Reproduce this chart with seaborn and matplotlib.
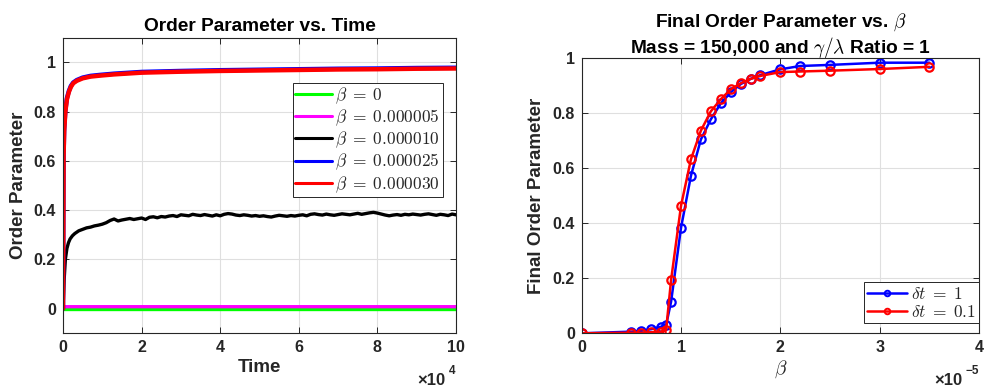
import numpy as np
import pandas as pd
import matplotlib
matplotlib.use("Agg")
import matplotlib.pyplot as plt
import seaborn as sns
from matplotlib.ticker import FixedLocator, FuncFormatter

sns.set_theme(style="white")
plt.rcParams['font.family'] = ['Liberation Sans', 'DejaVu Sans']
plt.rcParams['mathtext.fontset'] = 'cm'
plt.rcParams['font.weight'] = 'bold'
plt.rcParams['axes.labelweight'] = 'bold'
plt.rcParams['axes.titleweight'] = 'bold'

# ---------------- data: left panel (order parameter vs time) ----------------
time_zero = [0, 100000]
op_beta0 = [0.0, 0.0]

time_b5 = [0, 100, 100000]
op_beta5 = [0.0, 0.008, 0.008]

time_b10_early = [0, 300, 600, 1000, 1400, 1800, 2400]
op_beta10_early = [0.0, 0.12, 0.20, 0.245, 0.268, 0.283, 0.296]
time_b10_late = np.arange(3000, 100001, 1000)
op_beta10_late = [
    0.305, 0.316, 0.322, 0.328, 0.331, 0.336, 0.339, 0.343, 0.349, 0.358,
    0.364, 0.356, 0.360, 0.363, 0.366, 0.362, 0.365, 0.368, 0.362, 0.371,
    0.373, 0.369, 0.374, 0.372, 0.376, 0.378, 0.374, 0.381, 0.379, 0.377,
    0.383, 0.380, 0.378, 0.382, 0.379, 0.376, 0.381, 0.377, 0.383, 0.386,
    0.384, 0.380, 0.378, 0.381, 0.379, 0.376, 0.378, 0.375, 0.377, 0.374,
    0.372, 0.376, 0.379, 0.377, 0.375, 0.378, 0.376, 0.379, 0.381, 0.377,
    0.383, 0.385, 0.382, 0.380, 0.384, 0.381, 0.379, 0.382, 0.385, 0.383,
    0.381, 0.384, 0.387, 0.383, 0.386, 0.389, 0.391, 0.388, 0.384, 0.380,
    0.377, 0.380, 0.382, 0.379, 0.383, 0.381, 0.384, 0.382, 0.380, 0.383,
    0.385, 0.382, 0.379, 0.383, 0.381, 0.378, 0.384, 0.381,
]

time_high = [0, 150, 300, 600, 1000, 1500, 2000, 2600, 3500, 5000, 7000, 9400,
             13000, 20000, 30000, 40000, 50000, 60000, 70000, 80000, 90000, 100000]
op_beta25 = [0.0, 0.63, 0.73, 0.805, 0.855, 0.884, 0.904, 0.918, 0.928, 0.938, 0.945,
             0.949, 0.954, 0.961, 0.965, 0.968, 0.970, 0.972, 0.974, 0.975, 0.977, 0.978]
op_beta30 = [0.0, 0.62, 0.72, 0.80, 0.85, 0.88, 0.90, 0.915, 0.925, 0.935, 0.942,
             0.946, 0.951, 0.958, 0.962, 0.965, 0.967, 0.969, 0.971, 0.972, 0.974, 0.975]

legend_labels_left = [r'$\beta\;=\;0$', r'$\beta\;=\;0.000005$', r'$\beta\;=\;0.000010$',
                      r'$\beta\;=\;0.000025$', r'$\beta\;=\;0.000030$']

# ---------------- data: right panel (final order parameter vs beta) ----------------
beta_vals = np.array([0, 0.5, 0.6, 0.7, 0.8, 0.85, 0.9, 1.0, 1.1, 1.2, 1.3, 1.4, 1.5,
                      1.6, 1.7, 1.8, 2.0, 2.2, 2.5, 3.0, 3.5]) * 1e-5
final_dt1 = [0.0, 0.006, 0.009, 0.015, 0.024, 0.030, 0.115, 0.384, 0.573, 0.705, 0.778,
             0.836, 0.876, 0.906, 0.925, 0.939, 0.960, 0.972, 0.976, 0.984, 0.984]
final_dt01 = [0.0, 0.002, 0.002, 0.004, 0.006, 0.012, 0.194, 0.464, 0.633, 0.737, 0.807,
              0.851, 0.887, 0.909, 0.925, 0.936, 0.950, 0.952, 0.955, 0.961, 0.969]
legend_labels_right = [r'$\delta t\;=\;1$', r'$\delta t\;=\;0.1$']

# ---------------- figure ----------------
W, H = 987, 387
fig = plt.figure(figsize=(W / 100, H / 100), dpi=100)
axL = fig.add_axes([63 / W, 1 - 333.3 / H, 393 / W, 295.6 / H])
axR = fig.add_axes([581.7 / W, 1 - 333.3 / H, 397.3 / W, 275 / H])

edge = '#262626'
grid_c = '#dfdfdf'
tick_fs = 11.5
label_fs = 13.5
title_fs = 13.8
leg_fs = 12.5

# left panel lines
sns.lineplot(x=time_zero, y=op_beta0, ax=axL, color='#00ff00', lw=2.4,
             label=legend_labels_left[0], estimator=None, sort=False)
sns.lineplot(x=time_b5, y=op_beta5, ax=axL, color='#ff00ff', lw=2.4,
             label=legend_labels_left[1], estimator=None, sort=False)
tb10 = np.concatenate([time_b10_early, time_b10_late])
ob10 = np.concatenate([op_beta10_early, op_beta10_late])
sns.lineplot(x=tb10, y=ob10, ax=axL, color='black', lw=2.4,
             label=legend_labels_left[2], estimator=None, sort=False)
sns.lineplot(x=time_high, y=op_beta25, ax=axL, color='#0000ff', lw=3.2,
             label=legend_labels_left[3], estimator=None, sort=False)
sns.lineplot(x=time_high, y=op_beta30, ax=axL, color='#ff0000', lw=3.2,
             label=legend_labels_left[4], estimator=None, sort=False)

axL.set_xlim(0, 100000)
axL.set_ylim(-0.1, 1.1)
axL.xaxis.set_major_locator(FixedLocator(np.arange(0, 100001, 20000)))
axL.xaxis.set_major_formatter(FuncFormatter(lambda v, p: f'{v / 1e4:g}'))
axL.yaxis.set_major_locator(FixedLocator([0, 0.2, 0.4, 0.6, 0.8, 1.0]))
axL.yaxis.set_major_formatter(FuncFormatter(lambda v, p: f'{v:g}'))
axL.set_title('Order Parameter vs. Time', fontsize=title_fs, fontweight='bold', pad=5)
axL.set_xlabel('Time', fontsize=label_fs, fontweight='bold', labelpad=3)
axL.set_ylabel('Order Parameter', fontsize=label_fs, fontweight='bold', labelpad=5)
legL = axL.legend(loc='upper right', bbox_to_anchor=(0.966, 0.848), borderaxespad=0,
                  fontsize=leg_fs, frameon=True, fancybox=False, framealpha=1,
                  edgecolor=edge, handlelength=2.1, handletextpad=0.2,
                  labelspacing=0.1, borderpad=0.15)
legL.get_frame().set_linewidth(0.7)
for ln in legL.get_lines():
    ln.set_linewidth(2.2)

# right panel lines
sns.lineplot(x=beta_vals, y=final_dt1, ax=axR, color='#0000ff', lw=1.8, marker='o',
             markersize=6, markerfacecolor='none', markeredgecolor='#0000ff',
             markeredgewidth=1.6, label=legend_labels_right[0], estimator=None, sort=False)
sns.lineplot(x=beta_vals, y=final_dt01, ax=axR, color='#ff0000', lw=1.8, marker='o',
             markersize=6, markerfacecolor='none', markeredgecolor='#ff0000',
             markeredgewidth=1.6, label=legend_labels_right[1], estimator=None, sort=False)

axR.set_xlim(0, 4e-5)
axR.set_ylim(0, 1)
axR.xaxis.set_major_locator(FixedLocator(np.array([0, 1, 2, 3, 4]) * 1e-5))
axR.xaxis.set_major_formatter(FuncFormatter(lambda v, p: f'{round(v / 1e-5):d}'))
axR.yaxis.set_major_locator(FixedLocator([0, 0.2, 0.4, 0.6, 0.8, 1.0]))
axR.yaxis.set_major_formatter(FuncFormatter(lambda v, p: f'{v:g}'))
axR.set_title('Final Order Parameter vs. $\\beta$\nMass = 150,000 and $\\gamma/\\lambda$ Ratio = 1',
              fontsize=title_fs, fontweight='bold', pad=4, linespacing=1.1)
axR.set_xlabel(r'$\beta$', fontsize=14, labelpad=2)
axR.set_ylabel('Final Order Parameter', fontsize=label_fs, fontweight='bold', labelpad=5)
legR = axR.legend(loc='lower right', bbox_to_anchor=(1.0, 0.036), borderaxespad=0,
                  fontsize=leg_fs, frameon=True, fancybox=False, framealpha=1,
                  edgecolor=edge, handlelength=2.3, handletextpad=0.2,
                  labelspacing=0.12, borderpad=0.2, numpoints=1)
legR.get_frame().set_linewidth(0.7)
for ln in legR.get_lines():
    ln.set_markersize(4)
    ln.set_markeredgewidth(1.4)

for ax in (axL, axR):
    ax.grid(True, color=grid_c, linewidth=0.8)
    ax.set_axisbelow(True)
    for s in ax.spines.values():
        s.set_visible(True)
        s.set_color(edge)
        s.set_linewidth(0.8)
    ax.tick_params(direction='in', length=4, width=0.7, color=edge,
                   top=True, right=True, bottom=True, left=True,
                   labelsize=tick_fs, labelcolor=edge, pad=5)
    for lab in ax.get_xticklabels() + ax.get_yticklabels():
        lab.set_fontweight('bold')
    ax.xaxis.label.set_color(edge)
    ax.yaxis.label.set_color(edge)
    ax.title.set_color('black')

# axis multipliers
fig.text(417 / W, 1 - 385 / H, '×10', fontsize=12, fontweight='bold', color=edge,
         ha='left', va='baseline')
fig.text(448.5 / W, 1 - 374 / H, '4', fontsize=8.5, fontweight='bold', color=edge,
         ha='left', va='baseline')
fig.text(934 / W, 1 - 385 / H, '×10', fontsize=12, fontweight='bold', color=edge,
         ha='left', va='baseline')
fig.text(965.5 / W, 1 - 374 / H, '−5', fontsize=8.5, fontweight='bold', color=edge,
         ha='left', va='baseline')

fig.savefig('out.png', dpi=100, facecolor='white')
